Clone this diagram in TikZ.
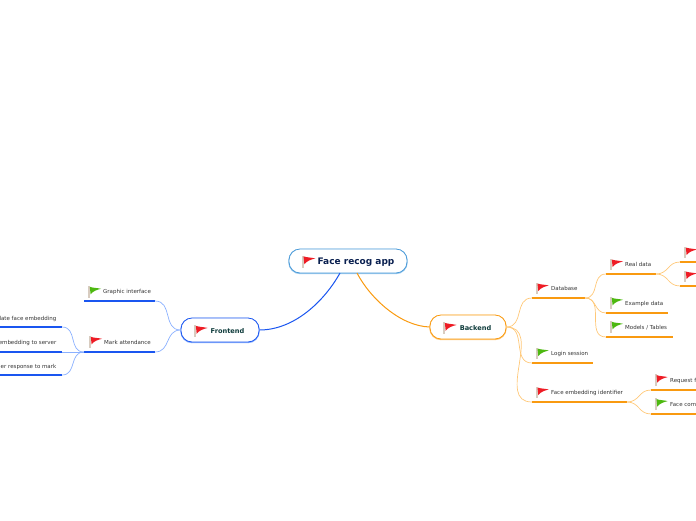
\documentclass[tikz,border=0pt]{standalone}
\usepackage{fontspec}
\setmainfont{DejaVu Sans}
\usepackage{tikz}
\usetikzlibrary{positioning}

\definecolor{rootline}{HTML}{4A9AD8}
\definecolor{rootshade}{HTML}{9CCBEE}
\definecolor{rootink}{HTML}{0A2050}
\definecolor{mainink}{HTML}{0F3C3C}
\definecolor{blueline}{HTML}{1A56F0}
\definecolor{blueshade}{HTML}{8AB0FF}
\definecolor{orangeline}{HTML}{F99A10}
\definecolor{orangeshade}{HTML}{FFC878}
\definecolor{flagred}{HTML}{EE1C25}
\definecolor{flaggreen}{HTML}{4DB810}
\definecolor{flagpole}{HTML}{D8CCC0}

\tikzset{
  mainbox/.style={draw=#1,rounded corners=11pt,line width=0.8pt,inner sep=0pt,fill=white},
  topictext/.style={font=\fontsize{5.5}{6.5}\selectfont,text=black!80,inner sep=0pt},
  maintext/.style={font=\fontsize{6.6}{8}\bfseries\selectfont,text=mainink,inner sep=0pt},
  flag/.pic={
    \fill[flagpole] (-0.6,0) rectangle (0.8,11.5);
    \fill[#1] (0.8,0.8) .. controls (4,2) and (8,1.8) .. (12,2.8)
      .. controls (8,3.8) and (4,5) .. (1.6,8.4) -- cycle;
  },
}

\begin{document}
\begin{tikzpicture}[x=1pt,y=-1pt]
  \clip (0,0) rectangle (696,520);
  % central topic and the two main branches
  \node[mainbox=rootline,minimum width=118pt,minimum height=24pt,
    preaction={draw=rootshade,line width=1.4pt,transform canvas={yshift=-0.5pt}}] (root) at (348,261) {};
  \node[mainbox=blueline,minimum width=78pt,minimum height=24pt,
    preaction={draw=blueshade,line width=1.4pt,transform canvas={yshift=-0.5pt}}] (frontend) at (220,330) {};
  \node[mainbox=orangeline,minimum width=76pt,minimum height=24pt,
    preaction={draw=orangeshade,line width=1.4pt,transform canvas={yshift=-0.5pt}}] (backend) at (468,327) {};
  \node[font=\fontsize{9}{11}\bfseries\selectfont,text=rootink,inner sep=0pt] (roottext) at (356,262.5) {Face recog app};
  \node[maintext] (fronttext) at (227.5,331) {Frontend};
  \node[maintext] (backtext) at (475.5,328) {Backend};
  \coordinate (rootl) at (340,273);
  \coordinate (rootr) at (357,273);
  \draw[blueline,line width=1pt] (rootl) .. controls (325,300) and (295,330) .. (frontend.east);
  \draw[orangeline,line width=1pt] (rootr) .. controls (370,298) and (400,326) .. (backend.west);

  % topics: name/left end/right end/line height/text
  \foreach \n/\xa/\xb/\y in {graphic/84/155/301, mark/84/155/352, calc/0/62/327, send/0/62/352, wait/0/62/375} {
    \draw[blueline,line width=1.3pt] (\xa,\y) coordinate (\n-l) -- (\xb,\y) coordinate (\n-r);
  }
  \foreach \n/\xa/\xb/\y in {database/532/585/298, realdata/606/656/274, realone/680/696/262, realtwo/680/696/286,
    example/606/668/313, models/606/673/337, login/532/593/363, identifier/532/627/402, request/651/696/390, compare/651/696/414} {
    \draw[orangeline,line width=1.3pt] (\xa,\y) coordinate (\n-l) -- (\xb,\y) coordinate (\n-r);
  }

  % connectors
  \foreach \a/\b in {frontend.west/graphic-r, frontend.west/mark-r, mark-l/calc-r, mark-l/send-r, mark-l/wait-r} {
    \draw[blueshade,line width=0.7pt] (\a) to[out=180,in=0,looseness=1.2] (\b);
  }
  \foreach \a/\b in {backend.east/database-l, backend.east/login-l, backend.east/identifier-l,
    database-r/realdata-l, database-r/example-l, database-r/models-l,
    realdata-r/realone-l, realdata-r/realtwo-l, identifier-r/request-l, identifier-r/compare-l} {
    \draw[orangeshade,line width=0.7pt] (\a) to[out=0,in=180,looseness=1.2] (\b);
  }

  % labels
  \foreach \n/\x/\y/\t in {graphictext/103/291.7/Graphic interface, marktext/104/342.7/Mark attendance,
    databasetext/551/288.7/Database, realdatatext/625/264.7/Real data, exampletext/625/303.7/Example data,
    modelstext/625/327.7/{Models / Tables}, logintext/551/353.7/Login session,
    identifiertext/551/392.7/Face embedding identifier, requesttext/670/380.7/Request f, comparetext/670/404.7/Face com} {
    \node[topictext,anchor=west] (\n) at (\x,\y) {\t};
  }
  \foreach \n/\y/\t in {calctext/318.7/late face embedding, sendtext/342.7/embedding to server, waittext/366.7/er response to mark} {
    \node[topictext,anchor=east] (\n) at (56.5,\y) {\t};
  }

  % flags
  \foreach \x/\y in {302.7/255.5, 195/325, 444/322} {
    \pic[scale=1.05] at (\x,\y) {flag=flagred};
  }
  \foreach \x/\y in {90/336, 536.7/282.7, 611/258.7, 685/246.7, 685/270.7, 536.7/386.7, 655.7/374.3} {
    \pic at (\x,\y) {flag=flagred};
  }
  \foreach \x/\y in {89/286, 611/297, 611/321, 536.7/347.7, 655.7/398.3} {
    \pic at (\x,\y) {flag=flaggreen};
  }
\end{tikzpicture}
\end{document}
